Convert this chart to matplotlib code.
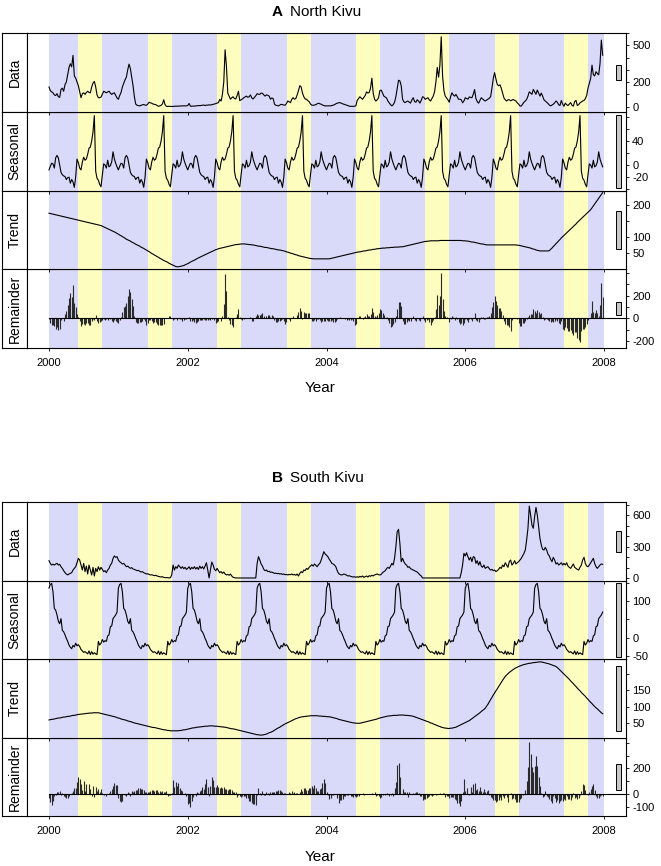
import numpy as np
import matplotlib
matplotlib.use("Agg")
import matplotlib.pyplot as plt
from matplotlib.patches import Rectangle

plt.rcParams['font.family'] = ['Liberation Sans', 'DejaVu Sans']

# weekly series, 52 weeks per year, 2000-2007 (STL decomposition)
years = [2000, 2001, 2002, 2003, 2004, 2005, 2006, 2007]
components = ["Data", "Seasonal", "Trend", "Remainder"]
xtick_years = [2000, 2002, 2004, 2006, 2008]

# ---------------- North Kivu ----------------
nk_data = [
    [160,130,120,112,95,90,105,80,75,140, 150,125,179,200,260,320,350,325,419,250,
     232,200,170,120,72,105,112,99,115,125, 115,112,160,192,205,160,95,72,72,77,
     100,125,118,112,120,125,110,99,108,112, 90,70],
    [59,90,115,160,190,219,240,300,347,310, 240,170,80,20,10,8,5,10,14,16,
     12,10,20,35,30,27,20,18,15,8, 2,5,10,20,55,15,2,0,2,0,
     1,0,2,3,2,4,3,5,4,6, 5,5],
    [8,25,3,2,4,3,5,6,8,7, 9,10,12,8,12,10,14,12,15,18,
     20,24,28,32,58,45,100,200,465,330, 110,85,60,72,80,65,62,90,125,48,
     55,62,72,78,85,75,80,95,70,62, 75,88],
    [105,100,100,110,108,95,85,95,92,85, 60,70,65,20,10,8,5,12,18,15,
     12,11,25,45,38,32,60,72,60,65, 95,130,171,160,110,80,62,59,48,40,
     20,11,10,12,15,22,27,22,19,12, 8,5],
    [5,5,6,5,8,11,15,22,27,30, 32,28,22,19,15,11,8,3,1,2,
     1,3,5,50,65,80,70,59,75,90, 120,110,115,150,232,110,60,45,55,72,
     130,135,110,85,78,70,45,30,15,5, 15,35],
    [80,150,215,210,170,60,38,32,40,45, 35,28,55,72,40,35,55,45,28,50,
     80,75,59,65,72,55,45,65,85,120, 200,320,240,340,571,250,130,85,70,55,
     35,80,112,95,85,99,80,59,60,55, 30,45],
    [72,65,60,78,75,72,100,139,65,40, 27,50,72,62,52,45,52,60,68,80,
     150,230,277,225,180,170,178,150,110,70, 55,45,55,55,47,52,58,50,45,30,
     19,5,3,20,35,45,58,85,120,110, 100,140],
    [120,100,135,110,85,110,85,55,45,35, 25,12,5,12,19,30,45,35,15,8,
     50,20,2,28,15,8,20,32,10,3, 40,50,8,15,30,38,45,50,64,90,
     150,190,230,339,260,250,285,270,259,350, 544,420],
]
nk_trend = [
    [174,173,172,171,170,169,168,167,166,165, 164,163,162,161,160,159,158,157,156,155,
     154,153,152,151,150,149,148,147,146,145, 144,143,142,141,140,139,138,137,136,135,
     133,131,129,127,125,123,121,119,117,115, 113,110],
    [108,105,103,100,98,95,92,90,88,86, 83,81,79,76,74,72,70,67,65,63,
     60,58,55,53,50,47,45,42,40,37, 35,32,30,27,25,23,21,19,16,14,
     12,10,8,6,5,5,6,7,8,9, 11,13],
    [15,17,20,22,24,26,28,31,33,35, 37,39,41,43,45,47,49,51,53,55,
     57,59,60,62,63,64,65,66,67,68, 69,70,71,72,73,74,75,75,76,76,
     77,77,77,77,76,76,75,75,74,74, 73,72],
    [71,70,70,69,68,67,66,66,65,64, 63,62,62,61,60,59,58,58,57,56,
     55,54,52,51,50,48,47,46,44,43, 42,40,39,38,37,36,35,34,33,32,
     31,31,30,30,30,30,30,30,30,30, 30,30],
    [30,30,30,31,32,33,34,35,36,37, 38,39,40,41,42,43,44,45,46,47,
     48,49,50,51,52,52,53,54,55,55, 56,57,58,58,59,60,60,61,62,62,
     63,63,64,64,64,65,65,65,66,66, 66,67],
    [67,67,67,68,68,68,69,70,71,72, 73,74,75,76,77,78,79,80,81,82,
     83,84,85,85,86,86,87,87,87,87, 87,87,87,88,88,88,88,88,88,88,
     88,88,88,88,88,88,88,88,88,88, 87,87],
    [87,86,86,85,84,83,83,82,81,80, 79,78,77,77,76,75,74,74,74,74,
     74,74,74,74,74,74,74,74,74,74, 74,74,74,74,74,74,74,74,74,73,
     73,72,71,70,69,68,67,66,65,64, 62,61],
    [60,58,57,56,55,55,55,55,55,55, 55,56,60,64,69,73,78,82,87,91,
     96,100,104,108,112,116,120,124,128,132, 136,140,145,149,153,157,161,165,169,173,
     177,181,185,191,197,203,209,215,221,227, 233,239],
]
nk_seasonal_year = [
    -8,-2,3,2,-5,12,16,12,0,-12, -16,-18,-19,-24,-21,-20,-30,-24,-28,-37,
    -20,10,4,-5,-8,5,13,8,10,18, 28,30,40,55,82,-10,-22,-25,-32,-36,
    -16,2,0,-5,8,-3,-1,5,22,10, 3,-3]

# ---------------- South Kivu ----------------
sk_data = [
    [166,140,124,131,124,134,140,124,131,108, 92,70,51,38,29,38,44,51,76,92,
     108,146,188,172,124,76,140,61,114,38, 124,76,29,102,19,92,61,108,76,102,
     82,61,70,51,76,92,124,140,188,211, 198,204],
    [172,156,146,134,140,124,108,114,102,92, 99,86,82,76,70,73,64,57,61,51,
     44,38,41,34,29,31,26,22,26,19, 16,12,9,12,6,3,3,3,0,3,
     29,124,76,108,92,124,108,92,108,89, 102,82],
    [92,108,82,102,89,108,86,102,82,114, 92,108,86,114,146,76,0,76,153,124,
     82,70,92,70,51,61,44,57,38,29, 34,26,38,19,6,3,0,0,0,0,
     0,0,0,0,0,0,0,0,0,0, 0,0],
    [140,204,172,134,114,82,70,76,61,64, 54,57,51,44,47,41,44,38,41,34,
     38,31,34,29,34,31,38,29,34,26, 38,19,44,61,51,76,70,92,82,102,
     114,127,114,134,121,108,127,140,172,211, 252,229],
    [219,204,181,162,140,134,124,108,70,44, 34,29,31,38,34,26,19,22,16,12,
     9,12,6,12,6,16,9,19,6,12, 19,9,22,16,26,19,29,34,38,31,
     29,34,51,61,70,89,102,92,114,140, 124,188],
    [299,444,466,332,156,188,156,134,124,102, 108,89,82,76,70,64,57,44,29,19,
     0,0,0,0,0,0,0,0,0,0, 0,0,0,0,0,0,0,0,0,0,
     0,0,0,0,0,0,0,0,0,51, 124,236],
    [211,242,204,172,198,156,204,198,140,166, 124,156,114,102,124,92,102,108,89,76,
     82,70,76,61,70,82,102,92,124,108, 146,124,102,156,172,124,140,166,134,146,
     156,172,188,211,236,268,364,476,689,603, 507,476],
    [587,676,603,491,379,316,274,268,293,268, 229,211,179,156,198,172,134,146,124,134,
     146,124,140,124,146,114,102,92,114,134, 102,92,82,76,102,124,172,198,140,114,
     108,124,146,166,188,140,108,92,108,124, 134,131],
]
sk_trend = [
    [60,61,62,62,63,64,65,66,66,67, 68,69,69,70,71,71,72,73,74,74,
     75,76,77,77,78,78,79,79,80,80, 81,81,81,82,82,82,82,82,81,80,
     79,78,77,76,75,74,73,72,71,70, 69,67],
    [66,65,63,62,61,60,59,57,56,55, 54,52,51,50,49,48,47,46,45,44,
     43,42,41,40,39,38,37,37,36,35, 34,33,32,31,30,30,29,28,28,27,
     27,27,27,27,27,27,28,28,29,30, 30,31],
    [32,33,34,35,36,36,37,38,38,39, 39,40,40,41,41,41,42,42,42,42,
     41,41,41,40,40,39,39,38,38,37, 36,35,34,33,33,32,31,30,29,28,
     27,26,25,24,23,22,21,20,19,18, 17,16],
    [15,15,14,14,14,15,16,17,19,21, 22,24,26,29,31,34,36,38,41,43,
     46,48,50,52,54,56,58,60,62,64, 65,67,68,69,70,70,71,71,72,72,
     73,73,73,73,73,73,72,72,72,71, 71,71],
    [70,70,70,69,68,67,66,65,64,62, 61,60,59,58,57,56,55,54,53,52,
     51,51,50,50,50,50,51,52,53,54, 55,56,57,58,59,60,61,62,63,65,
     66,67,68,69,70,71,72,72,73,73, 74,74],
    [74,74,75,75,75,75,75,74,74,74, 73,73,72,71,70,68,67,65,64,62,
     61,59,58,56,55,53,51,50,48,46, 45,43,41,40,38,37,36,35,35,34,
     34,35,35,36,37,38,40,42,44,46, 48,50],
    [52,54,56,58,61,64,67,70,73,76, 79,82,86,89,92,96,102,108,115,122,
     129,136,142,149,155,162,168,175,181,187, 193,197,201,205,208,211,214,217,219,221,
     223,225,226,228,229,230,231,232,233,233, 234,235],
    [235,236,236,237,237,237,236,235,234,233, 232,231,229,228,226,225,223,220,216,212,
     208,204,200,196,192,188,184,179,175,171, 166,162,157,153,149,144,140,136,132,127,
     123,118,114,110,105,101,97,94,90,86, 82,79],
]
sk_seasonal_year = [
    135,145,148,125,80,75,62,45,38,52, 20,16,8,-2,-10,-20,-26,-30,-21,-25,
    -15,-22,-19,-24,-32,-36,-40,-38,-41,-44, -36,-46,-38,-45,-41,-44,-46,-10,-20,-15,
    -5,-12,-8,-10,5,8,30,32,52,57, 62,70]


def weekly(rows):
    for r in rows:
        assert len(r) == 52, len(r)
    return np.array(sum(rows, []), dtype=float)


W, H = 661, 866
BLUE = '#d9d9fa'
YELLOW = '#fdfdc0'


def frac(x0, y0, x1, y1):
    return [x0 / W, 1 - y1 / H, (x1 - x0) / W, (y1 - y0) / H]


regions = [
    dict(tag="A", name="North Kivu", data=nk_data, trend=nk_trend, seas=nk_seasonal_year,
         rows=[33, 112, 191, 269, 348], title_y=12, xlab_y=388, bar=120,
         ylims=[(-45, 602), (-43, 88), (-2, 244), (-262, 435)],
         ticks=[range(0, 601, 100), range(-40, 81, 20), range(50, 201, 50), range(-200, 401, 100)],
         shown=[(0, 200, 500), (-20, 0, 40), (50, 100, 200), (-200, 0, 200)]),
    dict(tag="B", name="South Kivu", data=sk_data, trend=sk_trend, seas=sk_seasonal_year,
         rows=[502, 581, 659, 738, 816], title_y=478, xlab_y=857, bar=200,
         ylims=[(-29, 728), (-58, 154.5), (5, 246), (-172, 437)],
         ticks=[range(0, 701, 100), range(-50, 151, 50), range(50, 201, 50), range(-100, 401, 100)],
         shown=[(0, 300, 600), (-50, 0, 100), (50, 100, 150), (-100, 0, 200)]),
]

fig = plt.figure(figsize=(W / 100, H / 100), dpi=100)
xlim = (1999.683, 2008.317)

for reg in regions:
    data = weekly(reg["data"])
    trend = weekly(reg["trend"])
    seas = np.tile(np.array(reg["seas"], dtype=float), len(years))
    rem = data - trend - seas
    t = years[0] + np.arange(len(data)) / 52.0
    series = [data, seas, trend, rem]
    rows = reg["rows"]

    for k in range(4):
        y0, y1 = rows[k], rows[k + 1]
        ax = fig.add_axes(frac(27, y0, 626, y1))
        ax.set_zorder(10 - k)
        ax.axvspan(2000, 2008, color=BLUE, lw=0, zorder=0)
        for yr in years:
            ax.axvspan(yr + 0.425, yr + 0.77, color=YELLOW, lw=0, zorder=0.5)

        if components[k] == "Remainder":
            ax.vlines(t, 0, rem, color='#2a2a2a', lw=0.8, zorder=2)
            ax.plot([2000, xlim[1]], [0, 0], color='black', lw=0.8, zorder=3)
        else:
            ax.plot(t, series[k], color='black', lw=0.8, zorder=2)

        lo, hi = reg["ylims"][k]
        ax.set_xlim(*xlim)
        ax.set_ylim(lo, hi)
        mid = (lo + hi) / 2
        ax.add_patch(Rectangle((2008.169, mid - reg["bar"] / 2), 0.076, reg["bar"],
                               facecolor='#c8c8c8', edgecolor='black', lw=0.7, zorder=5))

        tk = list(reg["ticks"][k])
        ax.yaxis.tick_right()
        ax.set_yticks(tk)
        ax.set_yticklabels([str(v) if v in reg["shown"][k] else '' for v in tk])
        ax.tick_params(axis='y', direction='out', length=2.5, width=0.6, labelsize=8, pad=2)
        ax.set_xticks(xtick_years)
        ax.tick_params(axis='x', direction='out', length=2.5, width=0.6, labelsize=8, pad=4.5,
                       labelbottom=(k == 3))
        for s in ax.spines.values():
            s.set_linewidth(0.8)

        lab = fig.add_axes(frac(2, y0, 27, y1))
        lab.set_xticks([])
        lab.set_yticks([])
        for s in lab.spines.values():
            s.set_linewidth(0.8)
        lab.text(0.5, 0.5, components[k], rotation=90, ha='center', va='center',
                 fontsize=10, transform=lab.transAxes)

    fig.text(272 / W, 1 - reg["title_y"] / H, reg["tag"], fontsize=11, fontweight='bold',
             ha='left', va='center')
    fig.text(290 / W, 1 - reg["title_y"] / H, reg["name"], fontsize=11, ha='left', va='center')
    fig.text(320 / W, 1 - reg["xlab_y"] / H, "Year", fontsize=11, ha='center', va='center')

fig.savefig("out.png", dpi=100)
